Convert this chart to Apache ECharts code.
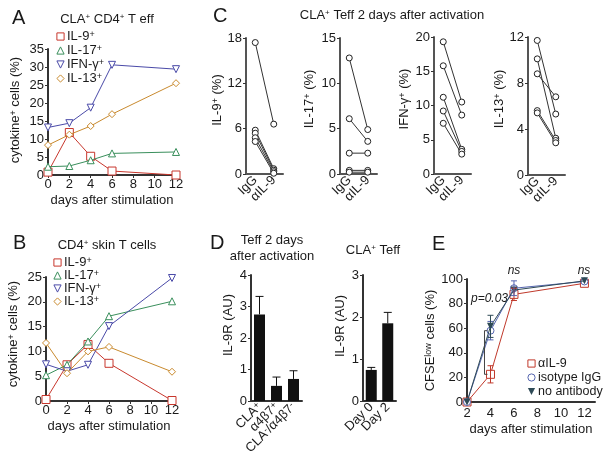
<!DOCTYPE html>
<html><head><meta charset="utf-8">
<script src="https://cdn.jsdelivr.net/npm/echarts@6/dist/echarts.min.js"></script>
<style>html,body{margin:0;padding:0;background:#fff}#c{width:611px;height:463px}</style>
</head><body><div id="c"></div>
<script>
// ---------- DATA ----------
const daysAB = [0, 2, 4, 6, 12];
const cytokineNames = ['IL-9', 'IL-17', 'IFN-γ', 'IL-13'];
// Panel A: CLA+ CD4+ T eff
const A_IL9  = [0.8, 11.8, 5.2, 1.1, 0.0];
const A_IL17 = [2.3, 2.5, 4.1, 6.0, 6.4];
const A_IFNG = [13.2, 14.4, 18.7, 30.6, 29.4];
const A_IL13 = [8.3, 11.2, 13.6, 16.9, 25.5];
// Panel B: CD4+ skin T cells
const B_IL9  = [0.3, 7.3, 11.4, 7.6, 0.1];
const B_IL17 = [5.2, 7.3, 12.0, 17.1, 20.1];
const B_IFNG = [7.4, 6.0, 7.3, 15.1, 24.8];
const B_IL13 = [11.7, 5.6, 10.0, 10.9, 5.9];
// Panel C: paired values (IgG -> αIL-9)
const cGroups = ['IgG', 'αIL-9'];
const C_IL9_IgG   = [17.4, 5.8, 5.4, 4.8, 4.3];
const C_IL9_aIL9  = [6.6, 0.7, 0.5, 0.3, 0.1];
const C_IL17_IgG  = [12.8, 6.1, 2.3, 0.4, 0.2];
const C_IL17_aIL9 = [4.9, 3.6, 2.3, 0.4, 0.2];
const C_IFNG_IgG  = [19.3, 15.8, 11.2, 9.2, 7.4];
const C_IFNG_aIL9 = [10.5, 8.6, 3.6, 3.3, 2.9];
const C_IL13_IgG  = [11.7, 10.1, 8.8, 5.6, 5.4];
const C_IL13_aIL9 = [5.3, 3.2, 6.8, 3.0, 2.8];
const cYMax = [18, 15, 20, 12];
const cYStep = [6, 5, 5, 4];
// Panel D
const dCats1 = ['CLA+', 'α4β7+', 'CLA-/α4β7-'];
const dVals1 = [2.75, 0.48, 0.70];
const dErr1  = [0.57, 0.28, 0.26];
const dCats2 = ['Day 0', 'Day 2'];
const dVals2 = [0.74, 1.85];
const dErr2  = [0.06, 0.26];
// Panel E
const eDays = [2, 4, 6, 12];
const eNames = ['αIL-9', 'isotype IgG', 'no antibody'];
const E_aIL9 = [0, 22.5, 87.5, 96.5];
const E_aIL9_err = [0, 7, 5, 0];
const E_iso = [0, 58, 92.5, 98];
const E_iso_err = [0, 7.5, 6, 0];
const E_noab = [0, 61.5, 91, 98.5];
const E_noab_err = [0, 9, 0, 0];

// ---------- STYLE ----------
const FONT = '"Liberation Sans", Arial, Helvetica, sans-serif';
const TXT = '#1a1a1a';
const AX = '#333';
const FS = 13;
const cytoColors = ['#c8372d', '#3a8f5c', '#4a4aa8', '#c98a2e'];
const cytoSymbols = ['rect', 'triangle', 'triangle', 'diamond'];
const cytoRotate = [0, 0, 180, 0];
const eColors = ['#c0392b', '#5565b0', '#2e4a56'];

const rich = {
  n: {fontFamily: FONT, fontSize: FS, color: TXT},
  s: {fontFamily: FONT, fontSize: 9, color: TXT, verticalAlign: 'top'},
  e: {fontFamily: FONT, fontSize: 12.5, color: TXT},
  tn: {fontFamily: FONT, fontSize: 13, color: TXT},
  ts: {fontFamily: FONT, fontSize: 8, color: TXT, verticalAlign: 'top'}
};
const sup = (a, s, b) => `{n|${a}}{s|${s}}` + (b ? `{n|${b}}` : '');

const grids = [
  {left: 48, top: 49, width: 128, height: 126},   // A
  {left: 46, top: 277, width: 126, height: 124},  // B
  {left: 246, top: 38, width: 37, height: 136},   // C1
  {left: 340, top: 38, width: 37, height: 136},   // C2
  {left: 434, top: 37, width: 37, height: 137},   // C3
  {left: 528, top: 37, width: 37, height: 138},   // C4
  {left: 251, top: 275, width: 51, height: 126},  // D1
  {left: 363, top: 275, width: 33, height: 126},  // D2
  {left: 467, top: 279, width: 128, height: 123}  // E
];

function baseAxis(gi, extra) {
  return Object.assign({
    gridIndex: gi,
    axisLine: {show: true, onZero: false, lineStyle: {color: AX, width: 2}},
    axisTick: {show: true, length: 3, lineStyle: {color: AX, width: 1}},
    axisLabel: {color: TXT, fontSize: FS, fontFamily: FONT, margin: 4},
    splitLine: {show: false},
    nameTextStyle: {color: TXT, fontSize: FS, fontFamily: FONT, rich: rich}
  }, extra);
}
const nts = pad => ({color: TXT, fontSize: FS, fontFamily: FONT, rich: rich, padding: [0, 0, 0, pad]});

const xAxis = [], yAxis = [];
// A, B
[0, 1].forEach(g => {
  xAxis.push(baseAxis(g, {type: 'value', min: 0, max: 12, interval: 2,
    name: 'days after stimulation', nameLocation: 'middle', nameGap: 19,
    axisLabel: {color: TXT, fontSize: FS, fontFamily: FONT, margin: 3}}));
});
yAxis.push(baseAxis(0, {type: 'value', min: 0, max: 35, interval: 5,
  name: sup('cytokine', '+', ' cells (%)'), nameLocation: 'middle', nameGap: 26, nameTextStyle: nts(4)}));
yAxis.push(baseAxis(1, {type: 'value', min: 0, max: 25, interval: 5,
  name: sup('cytokine', '+', ' cells (%)'), nameLocation: 'middle', nameGap: 26, nameTextStyle: nts(10)}));
// C
const cNameGap = [21, 24, 23, 21];
const cNamePad = [12, 14, 13, 14];
for (let k = 0; k < 4; k++) {
  xAxis.push(baseAxis(2 + k, {type: 'category', data: cGroups, boundaryGap: true,
    axisTick: {show: false},
    axisLine: {show: true, lineStyle: {color: '#555', width: 2}},
    axisLabel: {color: TXT, fontSize: FS, fontFamily: FONT, rotate: 45, margin: 4, interval: 0}}));
  yAxis.push(baseAxis(2 + k, {type: 'value', min: 0, max: cYMax[k], interval: cYStep[k],
    axisLine: {show: true, onZero: false, lineStyle: {color: '#555', width: 2}},
    name: sup(cytokineNames[k], '+', ' (%)'), nameLocation: 'middle', nameGap: cNameGap[k],
    nameTextStyle: nts(cNamePad[k])}));
}
// D
const dLabel = v => ({
  'CLA+': sup('CLA', '+'), 'α4β7+': sup('α4β7', '+'),
  'CLA-/α4β7-': '{n|CLA}{s|-}{n|/α4β7}{s|-}'
}[v] || `{n|${v}}`);
[[6, dCats1], [7, dCats2]].forEach(([g, cats]) => {
  xAxis.push(baseAxis(g, {type: 'category', data: cats, axisTick: {show: false},
    axisLabel: {rotate: 45, margin: 4, interval: 0, formatter: dLabel, rich: rich,
      fontSize: FS, fontFamily: FONT, color: TXT}}));
});
yAxis.push(baseAxis(6, {type: 'value', min: 0, max: 4, interval: 1,
  name: 'IL-9R (AU)', nameLocation: 'middle', nameGap: 16, nameTextStyle: nts(26)}));
yAxis.push(baseAxis(7, {type: 'value', min: 0, max: 3, interval: 1,
  name: 'IL-9R (AU)', nameLocation: 'middle', nameGap: 16, nameTextStyle: nts(24)}));
// E
xAxis.push(baseAxis(8, {type: 'value', min: 2, max: 12.9, interval: 2, axisTick: {show: false},
  name: 'days after stimulation', nameLocation: 'middle', nameGap: 21,
  axisLabel: {color: TXT, fontSize: FS, fontFamily: FONT, margin: 5,
    formatter: v => (v > 12 ? '' : String(v))}}));
yAxis.push(baseAxis(8, {type: 'value', min: 0, max: 100, interval: 20,
  name: '{n|CFSE}{s|low}{n| cells (%)}', nameLocation: 'middle', nameGap: 27}));

// ---------- SERIES ----------
const series = [];
function cyto(gi, arrs) {
  arrs.forEach((arr, k) => {
    series.push({
      type: 'line', name: cytokineNames[k], xAxisIndex: gi, yAxisIndex: gi,
      data: daysAB.map((d, i) => [d, arr[i]]),
      symbol: cytoSymbols[k], symbolRotate: cytoRotate[k], symbolSize: k === 0 ? 8 : 7,
      itemStyle: {color: '#fff', borderColor: cytoColors[k], borderWidth: 1},
      lineStyle: {color: cytoColors[k], width: 1},
      clip: false, z: 3 + k, animation: false
    });
  });
}
cyto(0, [A_IL9, A_IL17, A_IFNG, A_IL13]);
cyto(1, [B_IL9, B_IL17, B_IFNG, B_IL13]);

const cPairs = [[C_IL9_IgG, C_IL9_aIL9], [C_IL17_IgG, C_IL17_aIL9],
                [C_IFNG_IgG, C_IFNG_aIL9], [C_IL13_IgG, C_IL13_aIL9]];
cPairs.forEach((p, k) => {
  p[0].forEach((v, i) => {
    series.push({
      type: 'line', name: 'c' + k + '_' + i, xAxisIndex: 2 + k, yAxisIndex: 2 + k,
      data: [[0, v], [1, p[1][i]]],
      symbol: 'circle', symbolSize: 6,
      itemStyle: {color: '#fff', borderColor: '#222', borderWidth: 1},
      lineStyle: {color: '#333', width: 1}, clip: false, animation: false
    });
  });
});

function errSeries(gi, xs, vals, errs, color, both, capW) {
  return {
    type: 'custom', xAxisIndex: gi, yAxisIndex: gi, z: 6, animation: false,
    data: xs.map((x, i) => [x, vals[i], errs[i]]).filter(d => d[2] > 0),
    renderItem: (params, api) => {
      const x = api.value(0), v = api.value(1), e = api.value(2);
      const t = api.coord([x, v + e]);
      const b = api.coord([x, both ? v - e : v]);
      const w = capW / 2;
      const st = {stroke: color, lineWidth: 1};
      const ch = [
        {type: 'line', shape: {x1: t[0], y1: t[1], x2: b[0], y2: b[1]}, style: st},
        {type: 'line', shape: {x1: t[0] - w, y1: t[1], x2: t[0] + w, y2: t[1]}, style: st}
      ];
      if (both) ch.push({type: 'line', shape: {x1: b[0] - w, y1: b[1], x2: b[0] + w, y2: b[1]}, style: st});
      return {type: 'group', children: ch};
    }
  };
}

series.push({type: 'bar', xAxisIndex: 6, yAxisIndex: 6, data: dVals1, barWidth: 11,
  itemStyle: {color: '#111'}, animation: false});
series.push(errSeries(6, [0, 1, 2], dVals1, dErr1, '#111', false, 8));
series.push({type: 'bar', xAxisIndex: 7, yAxisIndex: 7, data: dVals2, barWidth: 11,
  itemStyle: {color: '#111'}, animation: false});
series.push(errSeries(7, [0, 1], dVals2, dErr2, '#111', false, 8));

const eArrs = [E_aIL9, E_iso, E_noab];
const eErrs = [E_aIL9_err, E_iso_err, E_noab_err];
const eSym = ['rect', 'circle', 'triangle'];
const eRot = [0, 0, 180];
eArrs.forEach((arr, k) => {
  series.push({
    type: 'line', name: eNames[k], xAxisIndex: 8, yAxisIndex: 8,
    data: eDays.map((d, i) => [d, arr[i]]),
    symbol: eSym[k], symbolRotate: eRot[k], symbolSize: k === 0 ? 8 : 7,
    itemStyle: k === 2 ? {color: eColors[k]} : {color: '#fff', borderColor: eColors[k], borderWidth: 1},
    lineStyle: {color: eColors[k], width: 1}, clip: false, z: 3 + k, animation: false
  });
  series.push(errSeries(8, eDays, arr, eErrs[k], eColors[k], true, 6));
});
// significance bracket at day 4 between αIL-9 and isotype
series.push({
  type: 'custom', xAxisIndex: 8, yAxisIndex: 8, z: 7, animation: false,
  data: [[eDays[1], E_aIL9[1], E_iso[1]]],
  renderItem: (params, api) => {
    const lo = api.coord([api.value(0), api.value(1)]);
    const hi = api.coord([api.value(0), api.value(2)]);
    const x = lo[0] - 6;
    const st = {stroke: '#444', lineWidth: 1};
    return {type: 'group', children: [
      {type: 'line', shape: {x1: x, y1: lo[1], x2: x, y2: hi[1]}, style: st},
      {type: 'line', shape: {x1: x, y1: lo[1], x2: x + 3, y2: lo[1]}, style: st},
      {type: 'line', shape: {x1: x, y1: hi[1], x2: x + 3, y2: hi[1]}, style: st}
    ]};
  }
});

// ---------- LEGENDS ----------
function legend(left, top, gap, data, fmt) {
  return {
    orient: 'vertical', left, top, itemWidth: 9, itemHeight: 9, itemGap: gap,
    data, selectedMode: false, padding: 0,
    itemStyle: {borderWidth: 1},
    lineStyle: {opacity: 0},
    formatter: fmt,
    textStyle: {rich: rich, fontSize: FS, fontFamily: FONT, color: TXT, padding: [0, 0, 0, -3]}
  };
}

// ---------- TEXT ----------
const T = (text, x, y, opt) => ({type: 'text', silent: true,
  style: Object.assign({text, x, y, fill: TXT, font: `13px ${FONT}`, align: 'center',
    verticalAlign: 'middle', rich: rich}, opt || {})});
const L = (text, x, y) => T(text, x, y, {font: `20px ${FONT}`, align: 'left'});

const graphic = [
  L('A', 12, 18), L('B', 13, 243), L('C', 213, 16), L('D', 210, 243), L('E', 432, 244),
  T('{tn|CLA}{ts|+}{tn| CD4}{ts|+}{tn| T eff}', 107, 19),
  T('{tn|CD4}{ts|+}{tn| skin T cells}', 107, 245),
  T('{tn|CLA}{ts|+}{tn| Teff 2 days after activation}', 392, 15),
  T('Teff 2 days', 272, 240),
  T('after activation', 272, 256),
  T('{tn|CLA}{ts|+}{tn| Teff}', 373, 250),
  T('p=0.03', 471, 299, {align: 'left', font: `italic 12px ${FONT}`}),
  T('ns', 514, 271, {font: `italic 12px ${FONT}`}),
  T('ns', 584, 271, {font: `italic 12px ${FONT}`})
];

const chart = echarts.init(document.getElementById('c'), null, {renderer: 'canvas'});
chart.setOption({
  animation: false,
  backgroundColor: '#fff',
  textStyle: {fontFamily: FONT},
  grid: grids,
  xAxis, yAxis, series,
  legend: [
    legend(55, 30, 1, cytokineNames, n => sup(n, '+')),
    legend(52, 256, 0, cytokineNames, n => sup(n, '+')),
    legend(526, 357, 1, eNames, n => `{e|${n}}`)
  ],
  graphic
});
</script></body></html>
